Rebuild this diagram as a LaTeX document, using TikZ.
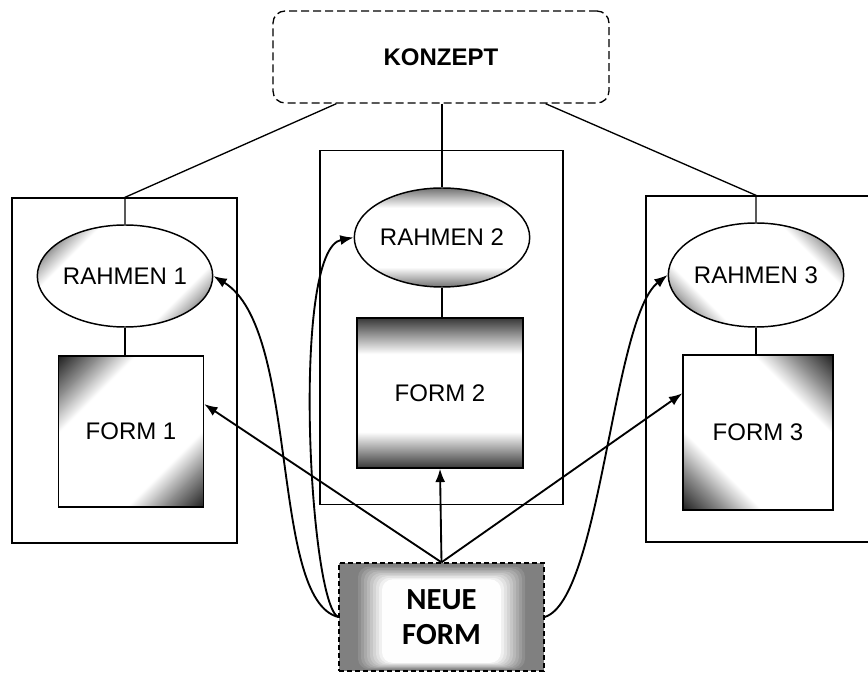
\documentclass[tikz,border=0pt]{standalone}
\usepackage{fontspec}
\setmainfont{Liberation Sans}
\newfontfamily\neuefont{Carlito}
\usetikzlibrary{arrows.meta,shapes.geometric,calc}

\pgfdeclareverticalshading{formends}{100bp}{color(0bp)=(black!78); color(25bp)=(black!78); color(37bp)=(white); color(63bp)=(white); color(75bp)=(black!78); color(100bp)=(black!78)}
\pgfdeclareverticalshading{rahmenends}{100bp}{color(0bp)=(black!55); color(25bp)=(black!55); color(35bp)=(white); color(65bp)=(white); color(75bp)=(black!55); color(100bp)=(black!55)}
\pgfdeclareverticalshading{formdiag}{100bp}{color(0bp)=(black!85); color(15bp)=(black!85); color(24bp)=(black!45); color(33bp)=(white); color(67bp)=(white); color(76bp)=(black!45); color(85bp)=(black!85); color(100bp)=(black!85)}
\pgfdeclareverticalshading{rahmendiag}{100bp}{color(0bp)=(black!70); color(21bp)=(black!62); color(26bp)=(black!28); color(31bp)=(white); color(69bp)=(white); color(74bp)=(black!28); color(79bp)=(black!62); color(100bp)=(black!70)}

\tikzset{every picture/.style={line width=1pt}}
\tikzset{
  frame/.style={draw, rectangle, inner sep=0pt},
  rahmen/.style={draw, ellipse, inner sep=0pt, line width=1.1pt, font=\fontsize{18}{20}\selectfont},
  form/.style={draw, rectangle, inner sep=0pt, line width=1.1pt, font=\fontsize{18}{20}\selectfont},
  pfeil/.style={line width=1.4pt, -{Latex[length=10pt,width=7.5pt]}},
  % path picture works without the yscale flip: +y is up here
  neueshade/.style={fill=black!50, path picture={
    \foreach \k [evaluate=\k as \tone using 50-5.5*\k] in {0,...,9}
      \fill[black!\tone, rounded corners=8pt] ($(path picture bounding box.south west)+({16+3*\k},{1+0.8*\k})$) rectangle ($(path picture bounding box.north east)+({-(16+3*\k)},{-(2+1.6*\k)})$);
  }}
}

\begin{document}
\begin{tikzpicture}[x=0.75pt,y=0.75pt,yscale=-1,xscale=1]
\useasboundingbox (0,0) rectangle (868,673);

%Frames
\node [frame, minimum width=168.75pt, minimum height=258.75pt] (frame1) at (124.5,370.5) {};
\node [frame, minimum width=182.25pt, minimum height=265.5pt] (frame2) at (441.5,327.5) {};
\node [frame, minimum width=168pt, minimum height=259.5pt] (frame3) at (758,369) {};

% Concept
\node [draw, rectangle, rounded corners=9pt, line width=1pt, dash pattern=on 6pt off 3pt, minimum width=252pt, minimum height=69pt, font=\bfseries\fontsize{18}{20}\selectfont] (konzept) at (441,57) {KONZEPT};

% Rahmen
\node [rahmen, shading=rahmendiag, shading angle=45, minimum width=104.25pt, minimum height=76.5pt] (rahmen1) at (125,276) {RAHMEN 1};
\node [rahmen, shading=rahmenends, minimum width=113.25pt, minimum height=74.25pt] (rahmen2) at (442,237.5) {RAHMEN 2};
\node [rahmen, shading=rahmendiag, shading angle=-45, minimum width=109.5pt, minimum height=78pt] (rahmen3) at (756,275) {RAHMEN 3};

% Forms
\node [form, shading=formdiag, shading angle=45, minimum width=108.75pt, minimum height=113.25pt] (form1) at (131,431.5) {FORM 1};
\node [form, shading=formends, minimum width=124.5pt, minimum height=112.5pt] (form2) at (440,393) {FORM 2};
\node [form, shading=formdiag, shading angle=-45, minimum width=112.5pt, minimum height=116.25pt] (form3) at (758,432.5) {FORM 3};

% Neue Form
\node [draw, rectangle, neueshade, line width=1pt, dash pattern=on 4pt off 2pt, minimum width=153.75pt, minimum height=81pt, align=center, font=\neuefont\bfseries\fontsize{23}{26}\selectfont] (neue) at (441.5,617) {NEUE\\FORM};

%Straight Lines
\draw ($(konzept.south west)!0.19!(konzept.south east)$) -- (frame1.north -| rahmen1.north) -- (rahmen1.north);
\draw (konzept.south -| rahmen2.north) -- (rahmen2.north);
\draw ($(konzept.south west)!0.81!(konzept.south east)$) -- (frame3.north -| rahmen3.north) -- (rahmen3.north);
\draw (rahmen1.south) -- (rahmen1.south |- form1.north);
\draw (rahmen2.south) -- (rahmen2.south |- form2.north);
\draw (rahmen3.south) -- (rahmen3.south |- form3.north);

%Arrows
\draw [pfeil] (neue.north) -- (form2.south);
\draw [pfeil] (neue.north) -- ($(form1.north east)!0.32!(form1.south east)$);
\draw [pfeil] (neue.north) -- ($(form3.north west)!0.25!(form3.south west)$);

%Curved Arrows
\draw [pfeil] (neue.west) .. controls +(-69,-17) and +(87,53) .. (rahmen1.east);
\draw [pfeil] (neue.west) .. controls +(-29,-12) and +(-63,12) .. (rahmen2.west);
\draw [pfeil] (neue.east) .. controls +(56,-17) and +(-55,43) .. (rahmen3.west);

\end{tikzpicture}
\end{document}
